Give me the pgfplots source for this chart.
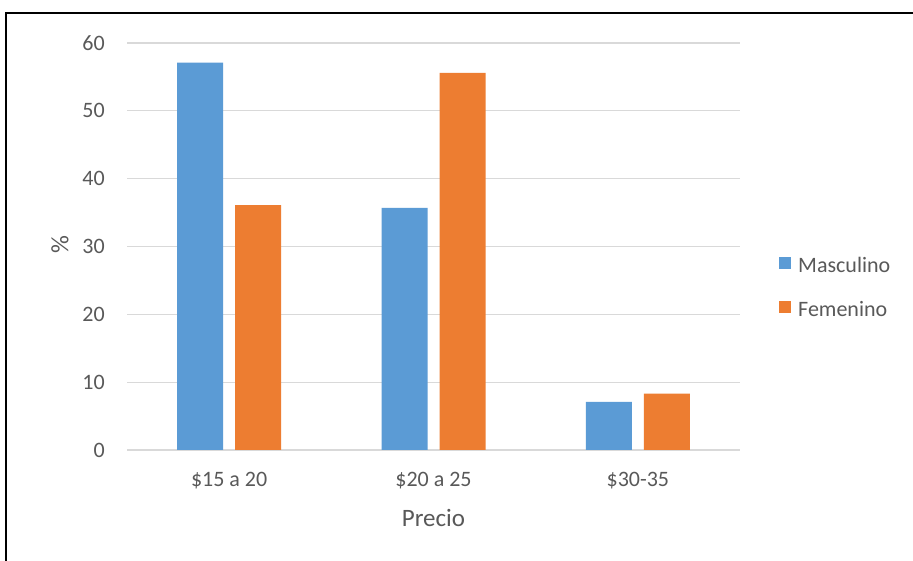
\documentclass[border=0pt]{standalone}
\usepackage{pgfplots}
\pgfplotsset{compat=1.18}
\usepackage{fontspec}
\setmainfont{Carlito}
\definecolor{blu}{HTML}{5B9BD5}
\definecolor{ora}{HTML}{ED7D31}
\definecolor{grd}{HTML}{D9D9D9}
\definecolor{txt}{HTML}{595959}
\begin{document}
\begin{tikzpicture}[x=1bp,y=1bp]
\path[use as bounding box, fill=white] (0,0) rectangle (913,561);
\draw[line width=2.5bp] (6,0) -- (6,548) -- (913,548);
\begin{axis}[
  at={(127bp,111bp)}, anchor=south west,
  scale only axis, width=613bp, height=407bp,
  xmin=-0.5, xmax=2.5, ymin=0, ymax=60,
  ybar=12bp, bar width=46bp,
  xtick={0,1,2}, xticklabels={\$15 a 20,\$20 a 25,\$30-35},
  ytick={0,10,...,60},
  /pgf/number format/assume math mode=true,
  axis line style={draw=none},
  major tick length=0pt,
  ymajorgrids, grid style={grd, line width=1.3bp},
  tick label style={font=\fontsize{22bp}{26bp}\selectfont, text=txt, inner sep=0pt},
  yticklabel style={anchor=east, xshift=-22bp},
  xticklabel style={anchor=base, yshift=-37bp},
  xlabel={Precio}, ylabel={\%},
  label style={font=\fontsize{25bp}{30bp}\selectfont, text=txt, inner sep=0pt},
  xlabel style={at={(axis description cs:0.5,0)}, anchor=base, yshift=-77bp},
  ylabel style={at={(axis description cs:-0.1093,0.504)}, anchor=center},
  legend style={draw=none, fill=none, at={(1,0.396)}, anchor=west, xshift=39bp,
    inner sep=0pt, font=\fontsize{22bp}{26bp}\selectfont, text=txt,
    nodes={inner sep=0pt, text height=15bp, text depth=4bp},
    column sep=7bp, row sep=25bp},
  legend cell align=left,
]
\addplot[fill=blu, draw=none, legend image code/.code={\fill[blu] (0bp,-2bp) rectangle (12bp,10bp);}]
  coordinates {(0,57.1) (1,35.7) (2,7.1)};
\addplot[fill=ora, draw=none, legend image code/.code={\fill[ora] (0bp,-2bp) rectangle (12bp,10bp);}]
  coordinates {(0,36.1) (1,55.6) (2,8.3)};
\legend{Masculino,Femenino}
\end{axis}
\end{tikzpicture}
\end{document}
